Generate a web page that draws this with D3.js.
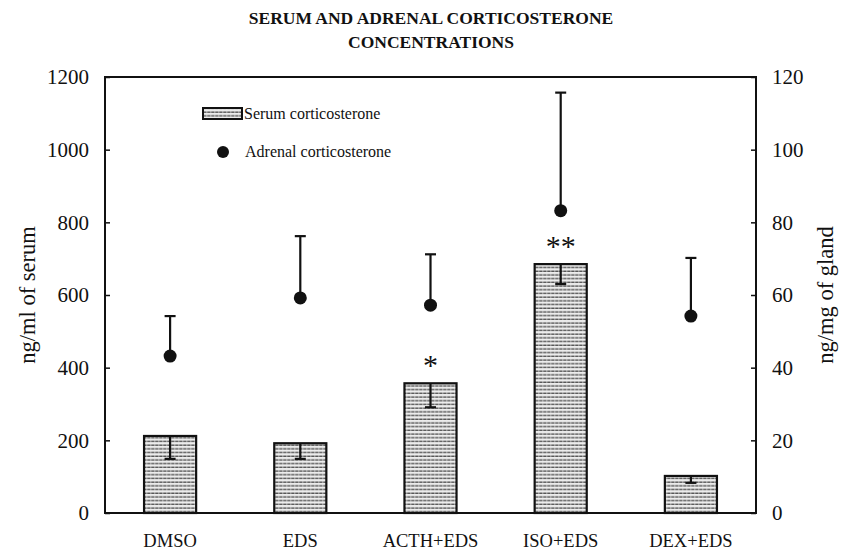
<!DOCTYPE html>
<html>
<head>
<meta charset="utf-8">
<script src="https://cdn.jsdelivr.net/npm/d3@7"></script>
<style>
  body { margin: 0; background: #fff; }
  text { font-family: "Liberation Serif", "Times New Roman", serif; fill: #111; }
</style>
</head>
<body>
<div id="d3"></div>
<script>
// values
const groups = ["DMSO", "EDS", "ACTH+EDS", "ISO+EDS", "DEX+EDS"];
const serum = [212, 192, 357, 685, 102];
const serumErr = [63, 43, 66, 55, 19];
const adrenal = [43.2, 59.2, 57.2, 83.2, 54.2];
const adrenalErr = [11, 17, 14, 32.5, 16];
const stars = ["", "", "*", "**", ""];
const leftTicks = [0, 200, 400, 600, 800, 1000, 1200];
const rightTicks = [0, 20, 40, 60, 80, 100, 120];

const width = 841;
const height = 553;
const plotLeft = 105, plotRight = 756, plotTop = 77, plotBottom = 513;

const svg = d3.select("#d3").append("svg")
  .attr("width", width)
  .attr("height", height);

// striped grey fill like the scanned hatching
const defs = svg.append("defs");
const pat = defs.append("pattern")
  .attr("id", "stripes")
  .attr("patternUnits", "userSpaceOnUse")
  .attr("width", 4)
  .attr("height", 3.7);
pat.append("rect").attr("width", 4).attr("height", 3.7).attr("fill", "#ececec");
pat.append("line")
  .attr("x1", 0).attr("x2", 4).attr("y1", 1.2).attr("y2", 1.2)
  .attr("stroke", "#555").attr("stroke-width", 1.4)
  .attr("stroke-dasharray", "2.6 0.6");

const x = d3.scaleBand()
  .domain(groups)
  .range([plotLeft, plotRight])
  .paddingInner(0.6)
  .paddingOuter(0.3);

const y = d3.scaleLinear().domain([0, 1200]).range([plotBottom, plotTop]);
const y2 = d3.scaleLinear().domain([0, 120]).range([plotBottom, plotTop]);

// title
svg.append("text")
  .attr("x", 431).attr("y", 24)
  .attr("text-anchor", "middle")
  .attr("font-weight", "bold")
  .attr("font-size", "17.5px")
  .text("SERUM AND ADRENAL CORTICOSTERONE");
svg.append("text")
  .attr("x", 431).attr("y", 48)
  .attr("text-anchor", "middle")
  .attr("font-weight", "bold")
  .attr("font-size", "17.5px")
  .text("CONCENTRATIONS");

// bars
const bars = svg.append("g");
bars.selectAll("rect")
  .data(groups)
  .enter()
  .append("rect")
  .attr("x", d => x(d))
  .attr("width", x.bandwidth())
  .attr("y", (d, i) => y(serum[i]))
  .attr("height", (d, i) => y(0) - y(serum[i]))
  .attr("fill", "url(#stripes)")
  .attr("stroke", "#111")
  .attr("stroke-width", 2.2);

// serum error bars (downward)
const capW = 11;
const serr = svg.append("g").attr("stroke", "#111").attr("stroke-width", 2.2);
groups.forEach((g, i) => {
  const cx = x(g) + x.bandwidth() / 2;
  serr.append("line")
    .attr("x1", cx).attr("x2", cx)
    .attr("y1", y(serum[i])).attr("y2", y(serum[i] - serumErr[i]));
  serr.append("line")
    .attr("x1", cx - capW / 2).attr("x2", cx + capW / 2)
    .attr("y1", y(serum[i] - serumErr[i])).attr("y2", y(serum[i] - serumErr[i]));
});

// adrenal error bars (upward) and dots
const aerr = svg.append("g").attr("stroke", "#111").attr("stroke-width", 2.2);
groups.forEach((g, i) => {
  const cx = x(g) + x.bandwidth() / 2;
  aerr.append("line")
    .attr("x1", cx).attr("x2", cx)
    .attr("y1", y2(adrenal[i])).attr("y2", y2(adrenal[i] + adrenalErr[i]));
  aerr.append("line")
    .attr("x1", cx - capW / 2).attr("x2", cx + capW / 2)
    .attr("y1", y2(adrenal[i] + adrenalErr[i])).attr("y2", y2(adrenal[i] + adrenalErr[i]));
});
svg.append("g").selectAll("circle")
  .data(groups)
  .enter()
  .append("circle")
  .attr("cx", d => x(d) + x.bandwidth() / 2)
  .attr("cy", (d, i) => y2(adrenal[i]))
  .attr("r", 6.5)
  .attr("fill", "#111");

// significance stars
svg.append("g").selectAll("text")
  .data(groups)
  .enter()
  .append("text")
  .attr("x", d => x(d) + x.bandwidth() / 2)
  .attr("y", (d, i) => y(serum[i]) - 8)
  .attr("text-anchor", "middle")
  .attr("font-size", "30px")
  .text((d, i) => stars[i]);

// axes
const yAxis = d3.axisLeft(y).tickValues(leftTicks).tickFormat(d3.format("d"))
  .tickSizeInner(-5).tickSizeOuter(0).tickPadding(16);
const yAxis2 = d3.axisRight(y2).tickValues(rightTicks).tickFormat(d3.format("d"))
  .tickSizeInner(-5).tickSizeOuter(0).tickPadding(16);

const ga = svg.append("g").attr("transform", `translate(${plotLeft},0)`).call(yAxis);
const gb = svg.append("g").attr("transform", `translate(${plotRight},0)`).call(yAxis2);
[ga, gb].forEach(g => {
  g.attr("font-family", "Liberation Serif, serif").attr("font-size", 21);
  g.select(".domain").remove();
  g.selectAll("line").attr("stroke", "#111").attr("stroke-width", 1.5);
  g.selectAll("text").attr("fill", "#111");
});

// frame
svg.append("rect")
  .attr("x", plotLeft).attr("y", plotTop)
  .attr("width", plotRight - plotLeft).attr("height", plotBottom - plotTop)
  .attr("fill", "none")
  .attr("stroke", "#111")
  .attr("stroke-width", 2);

// category labels
svg.append("g").selectAll("text")
  .data(groups)
  .enter()
  .append("text")
  .attr("x", d => x(d) + x.bandwidth() / 2)
  .attr("y", 547)
  .attr("text-anchor", "middle")
  .attr("font-size", "18.5px")
  .text(d => d);

// axis titles
svg.append("text")
  .attr("transform", `translate(35,${(plotTop + plotBottom) / 2}) rotate(-90)`)
  .attr("text-anchor", "middle")
  .attr("font-size", "22.5px")
  .text("ng/ml of serum");
svg.append("text")
  .attr("transform", `translate(833,${(plotTop + plotBottom) / 2}) rotate(-90)`)
  .attr("text-anchor", "middle")
  .attr("font-size", "22.5px")
  .text("ng/mg of gland");

// legend
const legend = svg.append("g");
legend.append("rect")
  .attr("x", 203).attr("y", 108)
  .attr("width", 39).attr("height", 11)
  .attr("fill", "url(#stripes)")
  .attr("stroke", "#111")
  .attr("stroke-width", 2);
legend.append("text")
  .attr("x", 244).attr("y", 119)
  .attr("font-size", "16px")
  .text("Serum corticosterone");
legend.append("circle")
  .attr("cx", 223).attr("cy", 152)
  .attr("r", 6)
  .attr("fill", "#111");
legend.append("text")
  .attr("x", 245).attr("y", 157)
  .attr("font-size", "16px")
  .text("Adrenal corticosterone");
</script>
</body>
</html>
